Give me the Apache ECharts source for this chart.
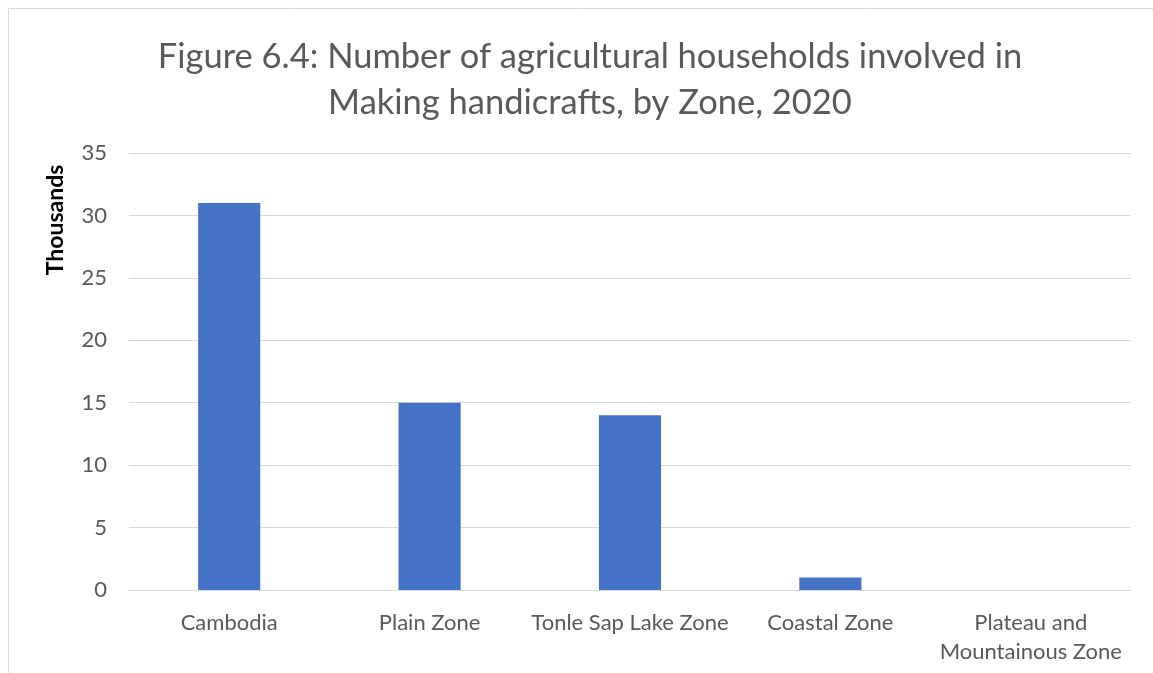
<!DOCTYPE html>
<html>
<head>
<meta charset="utf-8">
<script src="https://cdn.jsdelivr.net/npm/echarts@6/dist/echarts.min.js"></script>
<style>
  html, body { margin: 0; padding: 0; background: #fff; }
  #chart { width: 1153px; height: 673px; }
</style>
</head>
<body>
<div id="chart"></div>
<script>
// 数据
var zones = ["Cambodia", "Plain Zone", "Tonle Sap Lake Zone", "Coastal Zone", "Plateau and\nMountainous Zone"];
var households = [31, 15, 14, 1, 0]; // 千户
var yTicks = { min: 0, max: 35, step: 5 };

var myChart = echarts.init(document.getElementById("chart"));
var font = "Lato, 'Open Sans', sans-serif";
var option = {
  animation: false,
  title: {
    text: "Figure 6.4: Number of agricultural households involved in\nMaking handicrafts, by Zone, 2020",
    left: 585,
    top: 29,
    textAlign: "center",
    textStyle: { fontFamily: font, fontWeight: "normal", fontSize: 34.5, color: "#595959", lineHeight: 46 },
  },
  graphic: [
    //外框：只有上边和左边
    {
      type: "polyline",
      shape: { points: [[1153, 8.5], [8.5, 8.5], [8.5, 673]] },
      style: { fill: "none", stroke: "#d9d9d9", lineWidth: 1 },
      silent: true,
    },
    {
      type: "text",
      x: 56,
      y: 220,
      rotation: Math.PI / 2,
      style: {
        text: "Thousands",
        fontFamily: font,
        fontWeight: "bold",
        fontSize: 23,
        fill: "#000",
        align: "center",
        verticalAlign: "middle",
      },
    },
  ],
  grid: { left: 129, right: 22, top: 153, bottom: 83 },
  xAxis: {
    type: "category",
    data: zones,
    axisLine: { lineStyle: { color: "#d9d9d9", width: 1 } },
    axisTick: { show: false },
    axisLabel: { fontFamily: font, fontSize: 22, color: "#595959", margin: 18, lineHeight: 29, interval: 0 },
  },
  yAxis: {
    type: "value",
    min: yTicks.min,
    max: yTicks.max,
    interval: yTicks.step,
    axisLine: { show: false },
    axisTick: { show: false },
    splitLine: { lineStyle: { color: "#d9d9d9", width: 1 } },
    axisLabel: { fontFamily: font, fontSize: 22, color: "#595959", margin: 22 },
  },
  series: [
    {
      type: "bar",
      data: households,
      barWidth: "31%",
      itemStyle: { color: "#4472c4" },
    },
  ],
};
myChart.setOption(option);
</script>
</body>
</html>
